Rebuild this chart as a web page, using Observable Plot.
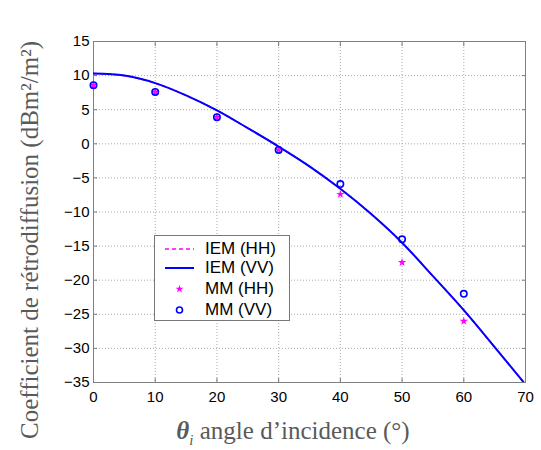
<!DOCTYPE html>
<html>
<head>
<meta charset="utf-8">
<script src="https://cdn.jsdelivr.net/npm/d3@7"></script>
<script src="https://cdn.jsdelivr.net/npm/@observablehq/plot@0.6"></script>
<style>
  html, body { margin: 0; padding: 0; background: white; }
  #wrap { position: relative; width: 541px; height: 450px; }
  .lbl { position: absolute; font-family: "Liberation Serif", serif; color: #5a5a5a; font-size: 25px; white-space: nowrap; }
  #legend { position: absolute; left: 154px; top: 235px; width: 134px; height: 84px; border: 1px solid #777; background: white;
            font-family: "Liberation Sans", Arial, sans-serif; font-size: 17px; color: #000; }
  .row { position: absolute; left: 0; height: 20px; display: flex; align-items: center; }
  .row svg { width: 50px; height: 20px; }
  .row span { margin-left: 0px; line-height: 20px; }
</style>
</head>
<body>
<div id="wrap"></div>
<script>
// ---- data ----
const iemAngles = [0, 5, 10, 15, 20, 25, 30, 35, 40, 45, 50, 55, 60, 65, 70];
const iemVV = [10.3, 10.0, 8.9, 7.1, 4.9, 2.3, -0.4, -3.3, -6.6, -10.3, -14.5, -19.4, -24.4, -29.8, -35.3];
const iemHH = [10.3, 10.0, 8.9, 7.1, 4.9, 2.3, -0.4, -3.3, -6.6, -10.3, -14.5, -19.4, -24.4, -29.8, -35.3];
const mmAngles = [0, 10, 20, 30, 40, 50, 60];
const mmHH = [8.6, 7.6, 3.9, -0.9, -7.4, -17.4, -26.0];
const mmVV = [8.6, 7.6, 3.9, -0.9, -5.9, -14.0, -22.0];
const xTicks = [0, 10, 20, 30, 40, 50, 60, 70];
const yTicks = [15, 10, 5, 0, -5, -10, -15, -20, -25, -30, -35];
const seriesNames = ["IEM (HH)", "IEM (VV)", "MM (HH)", "MM (VV)"];
const yLabel = "Coefficient de rétrodiffusion (dBm²/m²)";

const hhLine = iemAngles.map((a, i) => ({a, v: iemHH[i]}));
const vvLine = iemAngles.map((a, i) => ({a, v: iemVV[i]}));
const hhPts = mmAngles.map((a, i) => ({a, v: mmHH[i]}));
const vvPts = mmAngles.map((a, i) => ({a, v: mmVV[i]}));

const chart = Plot.plot({
  width: 541,
  height: 450,
  marginTop: 41,
  marginBottom: 68,
  marginLeft: 93,
  marginRight: 16,
  x: {domain: [0, 70]},
  y: {domain: [-35, 15]},
  style: {fontFamily: "'Liberation Sans', Arial, sans-serif", fontSize: "15px", color: "#000", background: "white"},
  marks: [
    Plot.gridX(xTicks, {stroke: "#aaa", strokeOpacity: 1, strokeDasharray: "1,2", strokeWidth: 1}),
    Plot.gridY(yTicks, {stroke: "#aaa", strokeOpacity: 1, strokeDasharray: "1,2", strokeWidth: 1}),
    Plot.axisX(xTicks, {anchor: "bottom", tickSize: 0, tickPadding: 9, label: null, fill: "#000"}),
    Plot.axisY(yTicks, {anchor: "left", tickSize: 0, tickPadding: 4, label: null, fill: "#000"}),
    Plot.axisX(xTicks, {anchor: "bottom", tickSize: -4, text: null, label: null, stroke: "#777"}),
    Plot.axisX(xTicks, {anchor: "top", tickSize: -4, text: null, label: null, stroke: "#777"}),
    Plot.axisY(yTicks, {anchor: "left", tickSize: -4, text: null, label: null, stroke: "#777"}),
    Plot.axisY(yTicks, {anchor: "right", tickSize: -4, text: null, label: null, stroke: "#777"}),
    Plot.frame({stroke: "#808080", strokeWidth: 1}),
    Plot.line(hhLine, {x: "a", y: "v", stroke: "#ff00ff", strokeWidth: 1.5, strokeDasharray: "4,3", curve: "catmull-rom", clip: true}),
    Plot.line(vvLine, {x: "a", y: "v", stroke: "#0000ff", strokeWidth: 2, curve: "catmull-rom", clip: true}),
    Plot.dot(hhPts, {x: "a", y: "v", symbol: "star", fill: "#ff00ff", r: 2.6}),
    Plot.dot(vvPts, {x: "a", y: "v", symbol: "circle", stroke: "#0000ff", fill: "none", strokeWidth: 1.6, r: 3.2})
  ]
});

const wrap = document.getElementById("wrap");
wrap.appendChild(chart);

// y label
const yl = document.createElement("div");
yl.className = "lbl";
yl.textContent = yLabel;
yl.style.left = "30px";
yl.style.top = "240px";
yl.style.transform = "translate(-50%, -50%) rotate(-90deg)";
wrap.appendChild(yl);

// x label
const xl = document.createElement("div");
xl.className = "lbl";
xl.innerHTML = '<b><i>θ</i></b><sub style="font-size:15px;font-style:italic;">i</sub> angle d’incidence (°)';
xl.style.left = "293px";
xl.style.top = "433px";
xl.style.transform = "translate(-50%, -50%)";
wrap.appendChild(xl);

// legend
const legend = document.createElement("div");
legend.id = "legend";
const starPath = d3.symbol(d3.symbolStar, 20)();
const swatches = [
  '<svg><line x1="10" x2="39" y1="10" y2="10" stroke="#ff00ff" stroke-width="1.5" stroke-dasharray="4,3"/></svg>',
  '<svg><line x1="10" x2="39" y1="10" y2="10" stroke="#0000ff" stroke-width="2"/></svg>',
  `<svg><path transform="translate(24.5,10)" d="${starPath}" fill="#ff00ff"/></svg>`,
  '<svg><circle cx="24.5" cy="10" r="3" fill="none" stroke="#0000ff" stroke-width="1.6"/></svg>'
];
const rowTops = [3, 22, 43, 64];
seriesNames.forEach((name, i) => {
  const r = document.createElement("div");
  r.className = "row";
  r.style.top = rowTops[i] + "px";
  r.innerHTML = swatches[i] + "<span>" + name + "</span>";
  legend.appendChild(r);
});
wrap.appendChild(legend);
</script>
</body>
</html>
